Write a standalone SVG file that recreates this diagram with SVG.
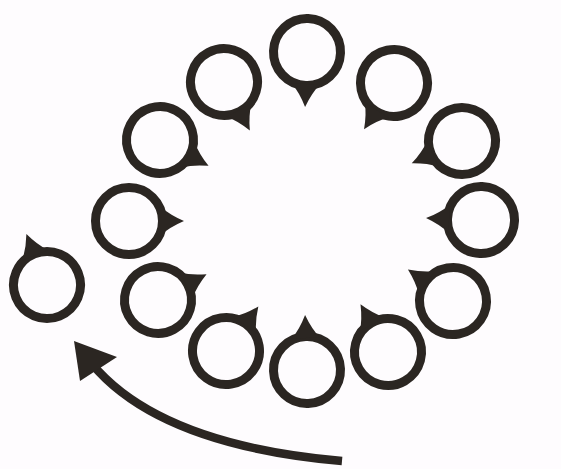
<svg xmlns="http://www.w3.org/2000/svg" xmlns:xlink="http://www.w3.org/1999/xlink" width="561" height="469" viewBox="0 0 561 469">
<style>
.ring{fill:none;stroke:#2b2622;stroke-width:9}
.tab{fill:#2b2622}
.arrow{fill:none;stroke:#2b2622;stroke-width:8.5;stroke-linecap:butt}
.head{fill:#2b2622}
</style>
<defs>
<g id="tabring">
<circle class="ring" cx="0" cy="0" r="33.5"/>
<path class="tab" d="M 32 -14 Q 41 -6 55 0 Q 41 6 32 14 Z"/>
</g>
</defs>
<rect width="561" height="469" fill="#fefcfe"/>
<g id="ring1"><use xlink:href="#tabring" transform="translate(307,52) rotate(92)"/></g>
<g id="ring2"><use xlink:href="#tabring" transform="translate(224,82) rotate(62)"/></g>
<g id="ring3"><use xlink:href="#tabring" transform="translate(394,83) rotate(123)"/></g>
<g id="ring4"><use xlink:href="#tabring" transform="translate(160,140) rotate(28)"/></g>
<g id="ring5"><use xlink:href="#tabring" transform="translate(462,141) rotate(156)"/></g>
<g id="ring6"><use xlink:href="#tabring" transform="translate(129,221) rotate(0)"/></g>
<g id="ring7"><use xlink:href="#tabring" transform="translate(481,220) rotate(182)"/></g>
<g id="ring8"><use xlink:href="#tabring" transform="translate(158,300) rotate(-28)"/></g>
<g id="ring9"><use xlink:href="#tabring" transform="translate(453,301) rotate(-145)"/></g>
<g id="ring10"><use xlink:href="#tabring" transform="translate(226,351) rotate(-54)"/></g>
<g id="ring11"><use xlink:href="#tabring" transform="translate(307,370) rotate(-92)"/></g>
<g id="ring12"><use xlink:href="#tabring" transform="translate(388,352) rotate(-120)"/></g>
<g id="ring13"><use xlink:href="#tabring" transform="translate(47,285) rotate(-112)"/></g>
<g id="connectors">
<path class="arrow" d="M 342 461 Q 160 445 92 364"/>
<polygon class="head" points="74,341 117,357 80,381"/>
</g>
</svg>
